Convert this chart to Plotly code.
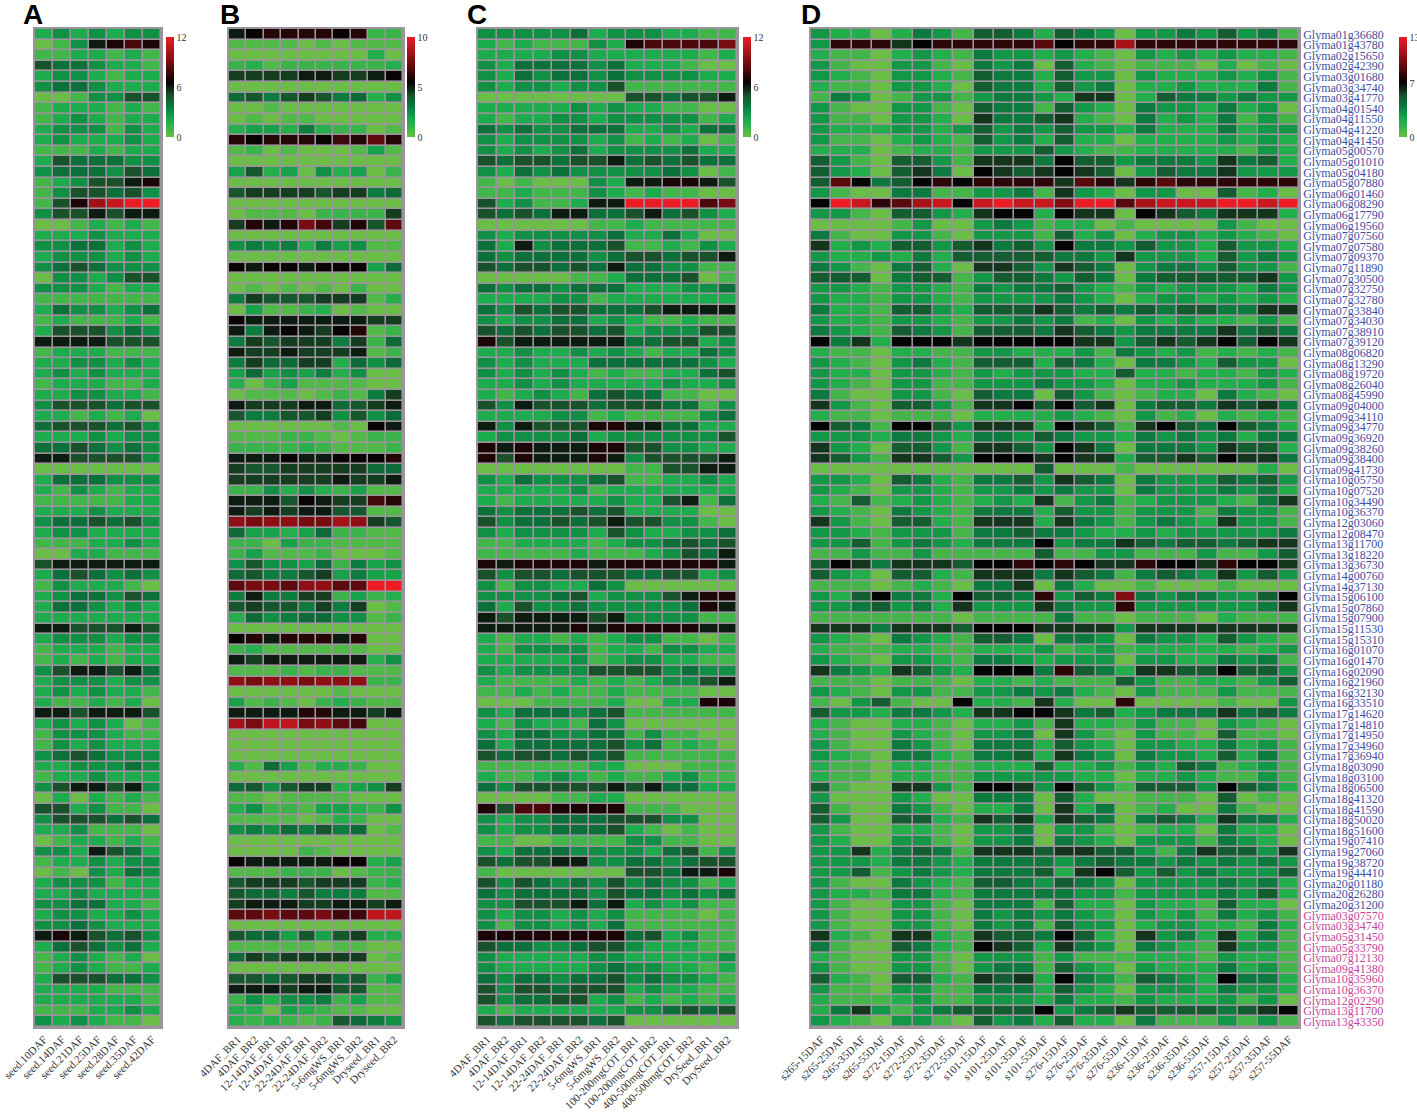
# -*- coding: utf-8 -*-
import numpy as np
import plotly.graph_objects as go

W = 1417
H = 1112

def px_x(v):
    return v / W

def px_y(v):
    return 1 - v / H

genes_blue = ["Glyma01g36680","Glyma01g43780","Glyma02g15650","Glyma02g42390","Glyma03g01680","Glyma03g34740","Glyma03g41770","Glyma04g01540","Glyma04g11550","Glyma04g41220","Glyma04g41450","Glyma05g00570","Glyma05g01010","Glyma05g04180","Glyma05g07880","Glyma06g01460","Glyma06g08290","Glyma06g17790","Glyma06g19560","Glyma07g07560","Glyma07g07580","Glyma07g09370","Glyma07g11890","Glyma07g30500","Glyma07g32750","Glyma07g32780","Glyma07g33840","Glyma07g34030","Glyma07g38910","Glyma07g39120","Glyma08g06820","Glyma08g13290","Glyma08g19720","Glyma08g26040","Glyma08g45990","Glyma09g04000","Glyma09g34110","Glyma09g34770","Glyma09g36920","Glyma09g38260","Glyma09g38400","Glyma09g41730","Glyma10g05750","Glyma10g07520","Glyma10g34490","Glyma10g36370","Glyma12g03060","Glyma12g08470","Glyma13g11700","Glyma13g18220","Glyma13g36730","Glyma14g00760","Glyma14g37130","Glyma15g06100","Glyma15g07860","Glyma15g07900","Glyma15g11530","Glyma15g15310","Glyma16g01070","Glyma16g01470","Glyma16g02090","Glyma16g21960","Glyma16g32130","Glyma16g33510","Glyma17g14620","Glyma17g14810","Glyma17g14950","Glyma17g34960","Glyma17g36940","Glyma18g03090","Glyma18g03100","Glyma18g06500","Glyma18g41320","Glyma18g41590","Glyma18g50020","Glyma18g51600","Glyma19g07410","Glyma19g27060","Glyma19g38720","Glyma19g44410","Glyma20g01180","Glyma20g26280","Glyma20g31200"]
genes_pink = ["Glyma03g07570","Glyma03g34740","Glyma05g31450","Glyma05g33790","Glyma07g12130","Glyma09g41380","Glyma10g35960","Glyma10g36370","Glyma12g02290","Glyma13g11700","Glyma13g43350"]

cols_a = ["seed.10DAF","seed.14DAF","seed.21DAF","seed.25DAF","seed.28DAF","seed.35DAF","seed.42DAF"]
cols_b = ["4DAF_BR1","4DAF_BR2","12-14DAF_BR1","12-14DAF_BR2","22-24DAF_BR1","22-24DAF_BR2","5-6mgWS_BR1","5-6mgWS_BR2","Dryseed_BR1","Dryseed_BR2"]
cols_c = ["4DAF_BR1","4DAF_BR2","12-14DAF_BR1","12-14DAF_BR2","22-24DAF_BR1","22-24DAF_BR2","5-6mgWS_BR1","5-6mgWS_BR2","100-200mgCOT_BR1","100-200mgCOT_BR2","400-500mgCOT_BR1","400-500mgCOT_BR2","DrySeed_BR1","DrySeed_BR2"]
cols_d = ["s265-15DAF","s265-25DAF","s265-35DAF","s265-55DAF","s272-15DAF","s272-25DAF","s272-35DAF","s272-55DAF","s101-15DAF","s101-25DAF","s101-35DAF","s101-55DAF","s276-15DAF","s276-25DAF","s276-35DAF","s276-55DAF","s236-15DAF","s236-25DAF","s236-35DAF","s236-55DAF","s257-15DAF","s257-25DAF","s257-35DAF","s257-55DAF"]

# panel A, scale 0-12
a_rows = [
[2,3,2,3,2,3,3],[0,1,3,6,7,8,7],[1,1,2,2,1,2,1],[5,4,4,3,2,2,1],[2,3,3,2,1,2,2],[3,4,4,3,2,2,2],[0,0,1,3,3,5,5],[1,2,2,2,1,2,1],[1,2,3,2,1,2,2],[2,3,3,3,1,3,2],
[2,3,2,2,2,3,2],[1,1,1,2,1,2,2],[2,5,4,4,4,3,3],[3,4,4,4,3,5,4],[1,2,3,5,5,6,7],[1,3,5,5,4,5,3],[1,5,7,10,11,12,12],[3,5,5,6,5,6,6],[0,0,1,2,1,2,1],[2,2,2,3,2,2,2],
[3,3,4,4,2,3,2],[2,3,3,3,2,3,2],[3,4,5,4,3,3,3],[0,3,3,2,3,5,5],[3,3,3,2,1,2,2],[1,1,1,1,1,1,1],[2,4,3,3,2,3,4],[1,2,1,1,1,2,1],[2,5,5,5,3,4,3],[6,6,6,6,5,5,5],
[1,2,2,2,1,1,1],[2,2,3,3,2,3,2],[2,3,2,3,2,2,2],[1,2,2,2,1,1,2],[2,2,3,3,2,2,1],[3,5,5,5,4,5,5],[2,2,1,2,1,2,0],[4,5,5,5,4,5,3],[2,2,2,3,2,3,3],[4,4,5,4,3,4,3],
[6,6,5,5,5,5,3],[0,0,0,0,0,0,0],[2,4,4,4,3,3,3],[2,1,3,2,1,2,2],[1,1,1,1,1,2,2],[2,2,2,3,2,2,2],[3,4,4,5,4,5,3],[2,3,3,2,2,2,2],[1,1,1,2,2,3,2],[0,0,2,2,1,1,1],
[5,6,6,6,6,6,6],[2,4,5,4,3,4,3],[1,3,2,2,2,1,0],[2,3,4,4,3,5,4],[2,4,4,3,2,3,2],[2,2,2,2,2,2,2],[6,6,5,5,5,6,5],[2,3,3,3,2,3,3],[1,2,2,2,1,2,2],[1,2,1,2,1,2,2],
[3,5,6,6,5,6,4],[2,3,3,3,2,3,3],[2,3,2,3,2,2,1],[2,1,1,2,1,2,0],[6,6,5,6,6,6,5],[2,3,2,3,2,0,1],[1,3,3,3,2,1,1],[1,3,2,3,2,2,2],[3,4,5,4,3,3,3],[2,2,3,3,3,4,3],
[1,2,2,3,2,2,2],[3,5,6,6,5,6,3],[0,2,0,2,1,2,1],[5,5,2,3,1,1,0],[3,5,5,5,4,5,4],[2,2,3,1,1,1,0],[0,1,2,2,1,2,1],[3,3,2,6,5,4,2],[1,2,2,3,2,3,3],[0,1,0,3,2,4,3],
[2,3,3,3,1,2,2],[2,2,3,2,2,2,2],[3,3,4,4,2,2,1],[2,3,3,2,2,3,2],[3,3,4,3,2,2,2],[6,7,6,5,4,5,3],[2,4,5,4,3,4,2],[1,2,3,2,1,2,0],[1,2,3,2,1,1,2],[2,5,5,5,4,4,3],
[2,2,2,2,1,1,1],[2,2,2,2,2,2,1],[1,1,1,2,2,3,2],[3,2,3,2,1,1,0],
]

# panel B, written in half units, scale 0-10
b_rows = [
[10,11,12,12,12,12,11,12,2,2],[1,1,1,1,0,1,0,1,1,1],[0,0,0,0,0,0,0,0,3,0],[2,3,1,2,2,2,2,2,2,3],[9,9,9,9,10,10,9,9,10,11],[0,0,0,0,0,0,0,0,0,0],[7,8,6,8,9,8,6,7,3,5],[0,0,1,0,0,0,0,0,0,0],[0,1,0,1,1,0,0,0,0,0],[3,4,4,3,6,3,2,2,0,1],
[12,11,12,12,12,11,13,12,14,12],[1,2,0,1,0,0,0,1,4,1],[0,0,0,0,0,0,0,0,0,0],[4,8,3,4,0,5,3,4,0,2],[0,0,0,0,0,0,0,0,0,0],[8,9,9,9,9,8,9,9,6,7],[0,0,0,0,0,0,0,0,0,0],[0,1,1,1,0,2,2,2,2,9],[9,12,10,12,15,13,9,12,8,14],[0,0,0,0,0,0,0,0,0,0],
[5,6,5,6,3,6,4,5,1,1],[0,0,0,0,0,0,0,0,0,0],[11,10,11,11,10,11,11,11,4,7],[0,0,0,0,0,0,0,0,0,0],[0,1,0,1,0,1,0,2,0,0],[6,9,8,8,8,9,9,9,1,3],[0,4,1,1,2,3,0,1,0,0],[11,10,10,10,10,10,10,10,9,9],[10,6,10,11,10,9,11,12,1,2],[6,9,8,9,9,9,6,9,2,7],
[10,9,9,10,9,9,9,10,1,2],[6,9,7,7,9,9,3,7,5,7],[4,7,4,5,4,6,3,5,0,0],[3,0,2,4,1,1,1,1,0,0],[0,1,1,1,0,1,2,1,6,9],[10,9,9,9,10,10,7,8,9,10],[8,6,6,8,8,9,5,8,5,7],[0,0,0,0,0,0,1,0,11,10],[1,1,1,2,2,1,0,1,2,2],[2,2,2,2,3,2,1,1,1,2],
[10,10,10,11,10,10,11,11,11,12],[9,8,8,9,9,9,9,9,7,7],[9,9,9,9,9,9,10,9,9,10],[2,2,5,3,5,3,2,4,1,1],[10,10,10,8,11,10,9,9,13,12],[10,9,10,9,10,10,8,8,1,1],[16,15,16,16,15,15,17,16,9,8],[7,4,4,3,4,7,2,2,1,1],[2,2,0,4,2,2,1,1,1,1],[2,4,1,1,1,2,0,0,0,1],
[5,8,5,5,4,7,2,6,4,5],[7,8,6,6,8,9,4,6,4,4],[14,15,15,14,16,16,14,14,20,20],[6,10,6,6,9,9,2,4,2,3],[8,9,8,8,6,9,6,9,0,1],[3,7,5,6,7,7,5,5,1,2],[0,0,0,0,0,0,0,0,0,0],[11,12,10,12,12,12,10,12,0,0],[2,3,1,1,1,1,1,1,0,0],[10,9,10,10,10,10,10,10,3,5],
[1,1,1,2,1,2,2,1,1,1],[16,15,16,16,15,16,16,16,2,2],[0,0,0,0,0,0,1,0,0,0],[4,1,2,1,0,2,3,2,1,1],[10,10,10,10,12,12,10,10,9,10],[17,15,18,18,15,16,14,13,0,0],[0,0,0,0,0,0,0,0,0,0],[0,0,0,0,0,0,0,0,0,0],[0,0,0,0,0,0,0,0,0,0],[3,1,7,4,1,3,3,2,0,0],
[0,0,0,0,0,0,0,0,0,0],[7,8,5,8,9,9,3,4,5,9],[1,1,0,1,1,1,1,0,0,0],[3,5,2,2,1,4,4,3,2,5],[1,1,1,1,0,1,3,2,0,0],[5,6,5,7,6,8,6,7,0,1],[0,0,0,0,0,0,0,0,0,0],[0,0,0,0,2,1,0,0,0,0],[11,10,10,10,10,10,11,11,3,4],[1,1,1,2,2,2,0,1,2,2],
[8,9,9,9,8,9,9,9,2,3],[8,7,7,6,8,6,6,6,1,1],[9,10,10,10,9,9,10,10,9,10],[14,14,15,14,14,15,13,13,18,18],[0,0,0,0,0,0,0,0,0,0],[8,7,7,4,8,4,8,9,3,3],[1,1,1,1,1,0,1,1,0,0],[7,9,8,9,9,9,9,9,0,1],[0,0,0,0,0,0,0,0,0,0],[8,8,7,8,9,9,7,8,2,4],
[10,10,10,9,10,10,8,8,1,1],[2,5,3,5,5,6,2,4,1,1],[3,3,0,4,3,2,1,1,0,0],[3,2,3,2,1,2,8,7,6,5],
]

# panel C, scale 0-12
c_rows = [
[3,3,3,3,3,4,2,3,3,3,2,2,1,1],[2,1,2,1,1,1,3,2,7,8,8,8,8,9],[2,2,2,2,3,3,2,2,2,2,2,2,1,2],[3,2,4,4,4,4,3,4,2,2,2,1,0,0],[3,2,4,3,4,4,3,4,3,3,3,3,2,2],[3,2,3,3,2,3,3,5,1,1,1,1,1,1],[0,0,0,0,0,0,0,0,5,5,4,5,5,6],[2,2,2,2,2,3,2,3,2,2,1,1,0,0],[2,1,2,2,3,3,2,3,3,3,3,3,1,2],[4,3,4,3,3,4,4,4,2,2,3,2,4,4],
[3,2,3,3,3,3,2,3,1,2,1,2,0,1],[3,2,3,2,3,4,2,3,3,3,3,4,2,2],[5,4,5,5,4,5,5,6,4,5,4,5,4,4],[3,2,4,3,4,3,3,3,3,3,4,3,0,1],[1,0,1,0,0,0,3,2,6,6,7,7,6,5],[1,1,2,1,1,1,3,2,1,2,1,1,0,0],[5,2,3,1,1,2,6,6,12,12,12,12,8,9],[5,4,5,4,6,6,4,4,5,6,4,5,3,2],[0,0,0,0,0,0,1,1,2,1,1,1,1,1],[3,2,3,3,3,3,3,4,2,2,4,2,0,0],
[4,2,6,3,4,4,4,5,1,1,2,1,3,2],[4,3,4,4,4,4,3,4,5,5,4,5,5,6],[5,4,5,5,4,5,4,6,4,4,3,3,1,1],[0,0,0,0,0,1,1,2,4,4,4,5,0,1],[4,3,4,4,3,4,4,4,2,2,2,3,3,4],[2,2,2,2,3,3,1,2,2,2,2,2,2,2],[4,3,5,4,5,5,4,4,4,5,6,6,6,6],[3,2,3,3,4,4,2,3,2,1,1,2,1,1],[5,4,5,4,5,5,4,5,2,3,3,3,5,5],[7,5,6,6,6,6,6,6,4,4,5,5,2,3],
[2,2,3,2,2,3,2,3,2,1,2,2,4,3],[3,2,3,2,2,2,4,4,4,4,4,4,3,2],[3,2,3,2,3,2,1,2,1,1,2,2,4,5],[2,2,3,2,3,2,2,2,2,2,3,2,2,3],[2,1,2,3,2,1,4,5,4,4,1,1,0,0],[5,3,6,5,5,5,4,5,5,5,4,4,1,3],[2,2,2,2,3,3,1,2,1,1,1,1,3,4],[6,3,6,5,5,5,7,7,6,6,4,4,2,2],[2,3,3,3,3,4,2,3,3,3,3,3,3,5],[7,6,7,6,6,6,7,7,5,5,3,3,2,2],
[7,5,7,6,6,6,7,6,3,5,5,5,5,6],[0,0,0,0,0,0,0,0,1,1,5,5,6,6],[3,2,4,3,3,3,4,5,1,1,2,2,3,2],[2,2,2,2,2,3,1,2,2,2,2,2,2,2],[2,1,2,2,2,2,2,3,2,2,5,6,1,4],[4,3,4,4,4,5,4,5,2,2,2,2,0,0],[5,3,4,4,5,4,5,6,5,5,3,3,1,0],[3,2,3,3,3,3,2,5,3,2,2,3,3,4],[1,1,2,2,2,2,1,2,3,3,4,5,4,5],[1,1,1,1,1,2,1,1,1,2,3,5,4,6],
[7,6,7,7,7,7,6,7,7,7,7,7,7,6],[5,3,5,5,4,5,5,5,4,4,5,5,2,3],[3,1,3,3,2,2,4,3,0,0,0,0,0,0],[3,3,3,3,4,5,2,3,3,3,5,6,7,7],[4,2,5,3,3,4,3,3,3,3,3,4,7,6],[6,5,6,6,6,6,5,6,3,3,3,3,1,1],[6,6,6,6,6,7,6,7,7,7,7,7,6,6],[2,1,2,2,1,2,1,2,3,3,1,1,0,1],[2,1,3,3,3,3,1,2,2,1,3,3,2,2],[2,2,2,2,2,3,1,2,3,3,2,2,1,1],
[3,2,3,3,3,3,5,5,5,5,3,4,3,3],[2,1,1,1,1,2,1,2,1,2,3,3,5,6],[1,1,2,1,2,1,1,2,1,1,1,1,0,0],[0,0,0,1,1,1,1,2,0,0,2,2,7,7],[3,2,4,4,4,3,4,5,1,1,1,1,1,1],[2,1,3,2,2,1,4,3,0,0,0,0,0,0],[3,2,4,4,3,3,4,4,1,3,1,1,0,0],[4,2,4,4,4,4,4,5,3,4,1,2,1,0],[5,4,5,5,4,5,4,5,1,1,1,1,1,1],[1,1,1,1,1,1,2,2,0,0,0,1,1,1],
[2,1,1,2,3,2,1,2,1,1,2,3,1,1],[4,3,5,5,5,5,5,6,5,6,4,4,2,2],[0,0,0,0,1,1,2,2,0,0,0,0,0,0],[7,5,8,8,7,7,7,7,1,1,1,0,0,0],[3,2,3,3,4,4,4,5,5,5,3,3,0,0],[3,2,3,3,4,4,4,5,2,1,0,1,0,0],[1,1,0,0,1,1,1,1,3,3,1,1,0,0],[3,2,4,4,4,3,3,3,3,2,4,5,1,3],[5,4,5,5,6,6,3,3,4,4,3,4,5,5],[1,0,0,0,0,0,0,0,5,5,4,6,6,7],
[5,3,5,4,3,4,3,5,3,4,3,3,1,2],[4,3,4,4,4,4,3,5,4,4,3,4,3,4],[3,3,5,5,5,6,4,6,2,3,2,3,1,1],[3,2,3,3,2,3,2,3,1,1,1,1,0,1],[3,1,3,3,2,3,2,4,1,1,1,1,1,1],[7,7,7,7,7,7,7,7,4,5,2,3,1,1],[5,4,4,3,3,4,5,5,3,2,2,2,1,1],[3,2,2,2,2,2,3,3,2,2,2,2,2,3],[3,2,2,2,2,2,3,4,3,3,2,2,1,2],[4,3,4,4,3,4,4,5,3,4,3,3,2,1],
[5,3,5,5,4,5,5,5,2,3,2,2,1,1],[5,3,4,4,5,5,2,3,1,2,1,2,1,2],[2,1,2,2,2,2,2,2,3,3,4,5,4,5],[5,4,5,5,5,5,4,5,0,0,0,0,0,0],
]

# panel D, scale 0-13
d_rows = [
[3,2,2,0,2,4,3,1,5,5,4,2,5,4,3,0,3,3,4,3,5,3,4,1],[3,8,8,8,6,7,8,8,8,8,8,9,7,8,8,11,8,8,8,8,8,8,8,8],[2,1,1,0,2,3,2,1,4,3,3,2,3,2,1,0,3,2,3,2,3,2,2,1],[3,1,0,0,3,3,1,0,4,3,4,0,5,2,1,0,1,1,1,0,2,0,1,0],[3,2,1,0,3,3,2,1,5,4,4,2,5,3,3,0,3,2,2,2,3,2,3,1],[2,1,1,0,3,3,2,0,5,4,4,2,5,3,4,0,2,2,3,2,2,2,4,1],[1,4,3,0,1,3,3,1,3,4,4,3,2,6,6,0,2,5,4,4,3,4,3,3],[3,1,0,0,3,3,1,0,5,4,4,1,5,3,2,0,4,3,3,2,4,2,3,0],[3,1,1,0,3,3,2,0,6,4,4,5,6,2,1,0,4,2,3,2,4,1,3,1],[3,2,2,2,3,3,2,3,5,3,4,3,5,3,3,2,4,2,2,2,4,2,3,3],
[3,1,1,0,2,3,2,1,5,3,4,2,5,2,2,0,2,2,2,2,3,2,3,2],[2,2,2,0,1,2,2,1,3,3,3,5,3,2,1,1,2,2,2,2,2,1,3,2],[5,3,1,0,5,5,3,1,6,6,6,4,7,5,5,3,4,4,4,3,6,4,5,2],[5,3,2,0,5,6,4,0,7,6,5,6,7,6,5,0,3,5,4,4,6,3,3,3],[5,9,7,4,5,7,8,7,8,8,8,8,6,9,8,6,8,9,8,8,8,8,8,8],[3,1,0,0,4,4,1,1,3,3,4,1,6,3,2,0,3,3,0,0,5,1,2,0],[7,13,12,8,9,11,12,7,12,13,12,12,10,13,13,9,11,12,12,12,13,13,12,13],[3,3,1,0,5,5,3,2,6,7,7,2,7,6,6,0,7,6,5,4,6,6,6,2],[0,0,0,0,1,3,0,0,3,4,3,1,2,2,0,1,0,0,0,0,3,1,0,0],[4,1,0,0,3,3,1,0,3,3,3,1,5,2,3,0,2,3,3,2,3,2,1,0],
[6,2,3,2,5,5,3,5,6,4,5,3,7,4,4,3,5,3,3,2,5,3,3,2],[3,2,2,3,2,4,2,5,5,5,5,5,4,4,3,6,3,3,3,2,5,3,4,3],[4,3,1,0,4,5,2,0,6,6,5,3,6,5,4,0,3,4,4,3,5,3,3,1],[5,5,5,0,4,5,5,1,3,5,5,4,3,5,4,0,4,5,5,5,5,5,6,3],[3,3,2,1,3,3,2,1,4,3,4,4,5,3,2,1,3,2,3,3,3,2,4,3],[3,2,2,1,3,3,2,1,3,3,3,3,4,3,2,0,2,3,3,2,3,2,3,2],[4,2,2,1,5,5,3,2,5,5,5,6,5,4,5,4,5,4,5,5,4,4,6,6],[3,2,2,1,3,3,2,1,3,3,4,3,4,1,2,0,3,2,3,2,2,1,3,1],[4,3,2,1,5,4,3,1,5,5,5,4,6,5,4,3,4,4,4,4,6,4,5,4],[7,4,6,2,7,7,7,6,7,7,7,7,7,6,6,3,5,6,5,6,7,5,7,6],
[2,1,1,0,2,2,1,1,3,3,2,2,2,3,1,4,3,2,3,1,2,1,2,1],[3,2,1,0,3,4,2,1,5,5,5,2,5,4,2,0,4,4,3,2,5,3,3,0],[3,2,2,0,3,3,2,1,3,2,3,3,3,2,2,5,2,2,1,2,2,1,3,2],[3,2,1,0,3,3,1,1,3,3,3,4,3,3,2,0,2,2,3,2,2,2,3,1],[4,1,0,0,3,3,1,0,5,4,4,0,5,3,1,0,1,2,2,0,4,2,1,0],[6,3,1,0,5,5,3,1,6,6,7,5,7,5,6,0,4,5,5,4,6,5,6,4],[2,1,1,0,1,1,1,0,2,2,2,2,3,2,1,0,3,1,2,0,2,1,2,1],[7,5,4,1,7,7,5,3,6,6,6,2,7,6,5,1,6,7,5,4,7,5,4,2],[3,3,3,2,4,4,3,2,4,4,3,5,4,3,3,2,4,3,4,3,4,2,4,4],[6,3,2,0,5,5,3,1,6,6,5,3,7,6,4,0,4,4,4,3,6,5,5,2],
[6,5,3,1,6,6,5,3,7,7,7,6,7,6,6,2,5,5,6,5,7,6,6,4],[0,0,0,0,0,0,0,0,0,0,0,5,0,0,0,1,0,0,0,0,0,0,2,0],[3,3,2,0,5,4,2,1,4,4,5,3,6,5,4,0,4,3,3,3,5,4,5,3],[3,2,1,0,3,3,2,1,3,3,4,3,4,3,3,0,4,3,3,3,4,3,4,2],[2,1,5,1,2,3,2,1,2,3,2,6,1,3,4,1,2,3,3,3,2,1,4,6],[3,2,1,0,4,3,2,1,4,4,4,2,5,3,3,1,3,3,3,1,4,3,3,1],[6,3,1,0,5,5,2,1,6,6,6,2,6,4,3,1,3,4,3,2,6,3,3,1],[3,3,2,1,3,3,3,1,4,4,5,4,4,3,2,2,3,2,3,3,3,3,3,4],[3,3,5,1,3,4,3,2,4,4,4,7,3,4,4,6,5,4,5,5,4,5,6,6],[1,1,3,1,1,3,1,1,1,1,1,5,1,1,3,3,1,1,1,3,1,1,3,5],
[5,7,6,4,6,6,6,5,7,7,8,7,8,7,6,6,8,7,7,6,8,7,7,6],[5,3,2,0,5,5,2,1,6,6,6,4,6,5,4,1,4,5,4,3,6,3,5,3],[1,1,1,0,1,2,1,0,4,4,6,0,4,2,0,0,1,0,0,0,1,0,0,0],[3,2,5,7,4,4,2,7,5,5,4,8,3,5,4,10,4,3,4,4,3,3,5,7],[3,3,4,5,3,4,2,6,3,3,3,6,4,3,3,8,3,3,3,3,3,3,4,6],[1,1,1,1,1,1,1,0,1,1,1,1,4,1,1,0,1,1,1,0,2,1,1,1],[6,6,6,4,6,6,6,5,7,7,7,6,6,6,6,3,6,6,6,6,6,6,6,6],[3,2,1,0,4,3,2,1,5,5,4,0,4,4,3,0,4,3,3,2,5,3,2,1],[2,1,1,1,2,2,1,1,2,2,2,3,1,2,3,1,2,2,2,2,2,1,2,3],[3,2,1,0,3,3,2,1,4,4,3,2,3,3,3,0,3,3,2,2,4,3,4,1],
[6,4,3,2,6,5,3,2,7,7,7,4,8,5,4,2,6,6,5,5,7,5,5,3],[1,1,1,0,1,1,1,0,2,2,1,2,1,1,1,5,3,1,1,2,2,1,3,5],[3,2,1,0,3,3,1,1,3,3,4,3,4,2,1,0,3,1,1,1,3,1,1,1],[1,0,3,5,1,0,0,7,2,2,1,6,2,0,0,8,0,0,0,0,1,0,0,3],[5,3,3,2,4,4,3,2,6,6,7,7,6,4,5,2,3,4,4,4,6,4,5,4],[2,1,0,0,2,2,1,0,2,2,3,1,6,2,2,1,3,1,1,0,3,2,1,0],[2,1,0,0,3,2,1,0,3,3,4,0,6,3,1,0,3,1,1,0,5,1,1,0],[3,1,0,0,4,3,1,0,4,4,4,2,5,3,2,0,3,3,2,2,4,2,3,1],[3,2,1,0,4,4,2,1,4,4,5,2,6,4,3,0,4,3,3,2,5,2,4,1],[2,1,1,0,2,2,1,1,2,2,2,5,2,2,3,1,3,2,5,4,1,2,3,1],
[2,1,1,0,2,2,1,1,3,3,3,3,3,2,2,0,2,2,3,2,1,1,3,1],[5,1,0,0,6,6,3,1,7,7,6,3,7,5,3,1,5,5,5,3,7,5,4,2],[3,0,0,0,3,2,0,0,4,4,4,0,5,2,0,0,1,1,1,0,5,0,1,0],[5,1,0,0,4,3,1,0,2,2,4,0,6,2,4,0,1,2,0,0,4,1,0,0],[5,3,0,0,5,5,2,1,6,5,6,2,6,5,4,0,4,5,4,2,6,4,4,2],[3,1,0,0,2,2,1,0,3,3,4,0,3,3,1,0,1,2,2,0,4,2,2,0],[3,2,0,0,3,3,1,0,3,3,4,0,4,3,2,0,3,3,3,1,4,3,2,0],[3,3,6,2,4,5,4,1,6,6,6,5,6,6,5,5,3,1,4,6,5,5,3,6],[3,3,3,2,4,4,3,2,4,4,4,4,3,4,5,4,4,3,4,3,4,3,4,3],[3,3,5,1,3,4,3,2,4,4,4,5,2,6,7,5,3,5,3,4,3,3,3,5],
[3,1,0,0,4,3,2,1,5,5,4,3,5,4,3,0,3,3,3,3,4,3,4,2],[3,2,2,1,4,4,2,1,4,4,4,4,4,3,3,1,3,3,3,3,4,3,5,2],[3,1,0,0,3,3,1,0,4,4,4,1,5,2,2,0,3,2,2,1,5,2,2,0],[3,1,0,0,3,3,1,0,4,3,4,3,4,3,2,0,3,2,3,1,4,2,3,1],[3,1,0,0,3,3,1,0,4,3,4,1,5,3,3,0,2,3,3,2,2,1,4,2],[6,2,1,0,6,6,2,1,6,5,5,4,7,5,2,0,6,3,4,2,6,2,4,1],[4,1,0,0,5,4,2,1,7,6,5,2,6,4,3,0,4,3,2,1,6,3,3,1],[2,1,0,0,3,3,1,0,3,3,3,1,3,1,1,1,2,2,2,1,3,2,2,1],[3,1,0,0,3,3,1,0,3,4,4,1,5,3,2,0,3,2,2,2,4,2,3,1],[5,2,1,0,5,5,2,1,6,5,6,2,7,4,3,1,5,4,3,2,7,4,4,2],
[3,1,1,0,3,3,1,1,4,4,4,2,5,3,2,0,3,3,3,2,4,3,3,2],[2,1,1,1,2,3,1,1,3,3,3,2,4,2,2,1,3,2,2,2,3,1,3,0],[2,4,6,3,1,3,4,5,5,5,5,7,3,4,5,6,5,5,5,5,4,5,6,7],[3,2,1,0,3,3,1,0,5,3,4,2,5,2,2,0,4,1,1,1,3,1,3,1],
]

# light green -> green -> black -> red, same ramp on all four panels
ramp = [[0, "#6abd45"], [0.08, "#42b649"], [0.17, "#1cac4d"], [0.25, "#0f9045"], [0.33, "#0b713b"],
        [0.42, "#1a5029"], [0.5, "#0c1c10"], [0.54, "#030303"], [0.75, "#780c10"], [1, "#ed1c24"]]

frame = "#9c949c"
serif = "Liberation Serif"

# pixel boxes of the panels: left, right, colorbar left, max, mid
panels = [
    (a_rows, cols_a, 35, 161, 166, 12, 6, ""),
    (np.array(b_rows) / 2, cols_b, 229, 403, 407, 10, 5, "2"),
    (c_rows, cols_c, 478, 737, 743, 12, 6, "3"),
    (d_rows, cols_d, 811, 1299, 1399, 13, 7, "4"),
]
top = 29
bottom = 1027

gene_ticks = list(genes_blue) + [f'<span style="color:#c2479c">{g}</span>' for g in genes_pink]

fig = go.Figure()
layout_axes = {}
for rows, cols, x0, x1, bar_x, zmax, mid, suffix in panels:
    fig.add_trace(go.Heatmap(
        z=rows,
        x=list(range(len(cols))),
        y=list(range(len(rows))),
        xaxis="x" + suffix,
        yaxis="y" + suffix,
        zmin=0, zmax=zmax,
        colorscale=ramp,
        xgap=1.6, ygap=1.6,
        colorbar=dict(x=px_x(bar_x), xanchor="left", y=px_y(37), yanchor="top",
                      len=100, lenmode="pixels", thickness=8, thicknessmode="pixels",
                      xpad=0, ypad=0, outlinewidth=0, ticks="", tickvals=[0, mid, zmax],
                      tickfont=dict(family=serif, size=10, color="#333333")),
    ))
    layout_axes["xaxis" + suffix] = dict(
        domain=[px_x(x0), px_x(x1)], anchor="y" + suffix, range=[-0.5, len(cols) - 0.5],
        tickmode="array", tickvals=list(range(len(cols))), ticktext=cols,
        tickangle=-45, ticks="", showgrid=False, zeroline=False,
        tickfont=dict(family=serif, size=11, color="#333333"),
        showline=True, mirror=True, linecolor=frame, linewidth=1.5,
    )
    layout_axes["yaxis" + suffix] = dict(
        domain=[px_y(bottom), px_y(top)], anchor="x" + suffix, range=[93.5, -0.5],
        showticklabels=False, ticks="", showgrid=False, zeroline=False,
        showline=True, mirror=True, linecolor=frame, linewidth=1.5,
    )

layout_axes["yaxis4"].update(
    side="right", showticklabels=True, tickmode="array",
    tickvals=list(range(94)), ticktext=gene_ticks,
    tickfont=dict(family=serif, size=12, color="#3d4fa3"),
)

letters = [("A", 33), ("B", 230), ("C", 477), ("D", 811)]
annos = [dict(text="<b>" + t + "</b>", x=px_x(px), y=px_y(14), xref="paper", yref="paper", showarrow=False,
              font=dict(family="Liberation Sans", size=28, color="#000000"), xanchor="center", yanchor="middle")
         for t, px in letters]

fig.update_layout(width=W, height=H, margin=dict(l=0, r=0, t=0, b=0, autoexpand=False),
                  paper_bgcolor="white", plot_bgcolor=frame, annotations=annos, **layout_axes)

# drop the browser's default body margin so the figure fills the window
fig.write_html("out.html", config={"displayModeBar": False}, post_script="document.body.style.margin='0';")
